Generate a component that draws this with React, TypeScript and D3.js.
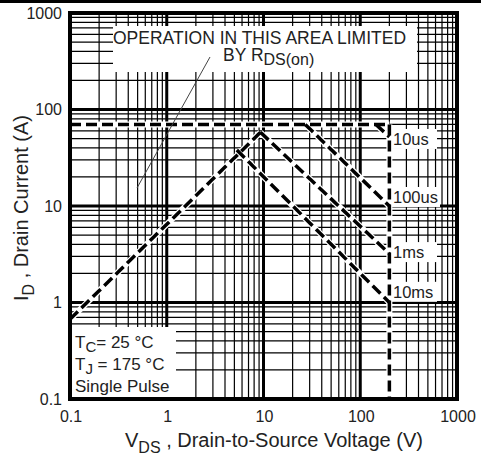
import React from 'react';
import * as d3 from 'd3';

// axis ticks
const xTicks = [0.1, 1, 10, 100, 1000];
const yTicks = [0.1, 1, 10, 100, 1000];

// operating limits
const idMax = 70;
const vdsMax = 200;
const rdsV = [0.1, 9.3];
const rdsI = [0.67, 58];

// pulse-width curves
const curveLabels = ['10us', '100us', '1ms', '10ms'];
const curveV = [
  [145, 200],
  [27, 200],
  [9.3, 200],
  [5.3, 200],
];
const curveI = [
  [70, 52],
  [70, 10],
  [58, 3.2],
  [38, 1],
];
const labelI = [49.5, 12.4, 3.33, 1.29];

const W = 481;
const H = 459;
const left = 70;
const right = 457;
const top = 13;
const bottom = 399;
const font = '"Liberation Sans", Arial, sans-serif';

export default function App() {
  const x = d3.scaleLog().domain([0.1, 1000]).range([left, right]);
  const y = d3.scaleLog().domain([0.1, 1000]).range([bottom, top]);
  const line = d3
    .line<[number, number]>()
    .x((d) => x(d[0]))
    .y((d) => y(d[1]));

  const minorX = x.ticks().filter((v) => !xTicks.includes(v));
  const minorY = y.ticks().filter((v) => !yTicks.includes(v));

  const paths: string[] = [];
  paths.push(line(rdsV.map((v, i) => [v, rdsI[i]]))!);
  paths.push(line([[0.1, idMax], [vdsMax, idMax]])!);
  paths.push(line([[vdsMax, idMax], [vdsMax, 0.1]])!);
  curveV.forEach((vs, k) => {
    paths.push(line(vs.map((v, i) => [v, curveI[k][i]]))!);
  });

  return (
    <svg
      width={W}
      height={H}
      style={{ position: 'absolute', left: 0, top: 0, background: '#fff' }}
      fontFamily={font}
    >
      <rect x={0} y={0} width={W} height={3} fill="#000" />

      {/* grid */}
      {minorX.map((v) => (
        <line key={'mx' + v} x1={x(v)} x2={x(v)} y1={top} y2={bottom} stroke="#000" strokeWidth={1.2} />
      ))}
      {minorY.map((v) => (
        <line key={'my' + v} y1={y(v)} y2={y(v)} x1={left} x2={right} stroke="#000" strokeWidth={1.2} />
      ))}
      {xTicks.map((v) => (
        <line key={'Mx' + v} x1={x(v)} x2={x(v)} y1={top} y2={bottom} stroke="#000" strokeWidth={3} />
      ))}
      {yTicks.map((v) => (
        <line key={'My' + v} y1={y(v)} y2={y(v)} x1={left} x2={right} stroke="#000" strokeWidth={3} />
      ))}

      {/* white boxes over the grid */}
      <rect x={113} y={26} width={304} height={46} fill="#fff" />
      <rect x={72} y={327} width={104} height={70} fill="#fff" />
      {curveLabels.map((l, k) => (
        <rect key={'lb' + l} x={391} y={y(labelI[k]) - 10} width={l.length > 4 ? 49 : 46} height={20} fill="#fff" />
      ))}

      {/* limit lines */}
      {paths.map((d, k) => (
        <path key={'w' + k} d={d} fill="none" stroke="#fff" strokeWidth={6} />
      ))}
      {paths.map((d, k) => (
        <path key={'b' + k} d={d} fill="none" stroke="#000" strokeWidth={3.5} strokeDasharray="11,5" />
      ))}

      {/* border */}
      <rect x={left} y={top} width={right - left} height={bottom - top} fill="none" stroke="#000" strokeWidth={4} />

      {/* curve labels */}
      {curveLabels.map((l, k) => (
        <text key={'t' + l} x={393} y={y(labelI[k]) + 6} fontSize={16.5} fill="#222">
          {l}
        </text>
      ))}

      {/* annotation */}
      <text x={113} y={44} fontSize={17.5} fill="#222">
        OPERATION IN THIS AREA LIMITED
      </text>
      <text x={223} y={61} fontSize={17.5} fill="#222">
        BY R<tspan fontSize={16} dy={4}>DS(on)</tspan>
      </text>
      <line x1={210} y1={57} x2={137} y2={188} stroke="#444" strokeWidth={1} />

      <text x={75} y={348} fontSize={17} fill="#222">
        T<tspan fontSize={15} dy={4}>C</tspan>
        <tspan dy={-4}>= 25 °C</tspan>
      </text>
      <text x={75} y={370} fontSize={17} fill="#222">
        T<tspan fontSize={15} dy={4}>J</tspan>
        <tspan dy={-4}> = 175 °C</tspan>
      </text>
      <text x={75} y={392} fontSize={17} fill="#222">
        Single Pulse
      </text>

      {/* tick labels */}
      {yTicks.map((v) => (
        <text key={'yl' + v} x={62} y={y(v) + 5.5} fontSize={16} textAnchor="end" fill="#222">
          {v}
        </text>
      ))}
      {xTicks.map((v) => (
        <text key={'xl' + v} x={x(v) + 1} y={422} fontSize={16} textAnchor="middle" fill="#222">
          {v}
        </text>
      ))}

      {/* axis titles */}
      <text x={125} y={447} fontSize={20} fill="#222">
        V<tspan fontSize={16} dy={6}>DS</tspan>
        <tspan dy={-6}> , Drain-to-Source Voltage (V)</tspan>
      </text>
      <text transform={`translate(28, ${(top + bottom) / 2 + 2}) rotate(-90)`} fontSize={20} textAnchor="middle" fill="#222">
        I<tspan fontSize={16} dy={6}>D</tspan>
        <tspan dy={-6}> , Drain Current (A)</tspan>
      </text>
    </svg>
  );
}
